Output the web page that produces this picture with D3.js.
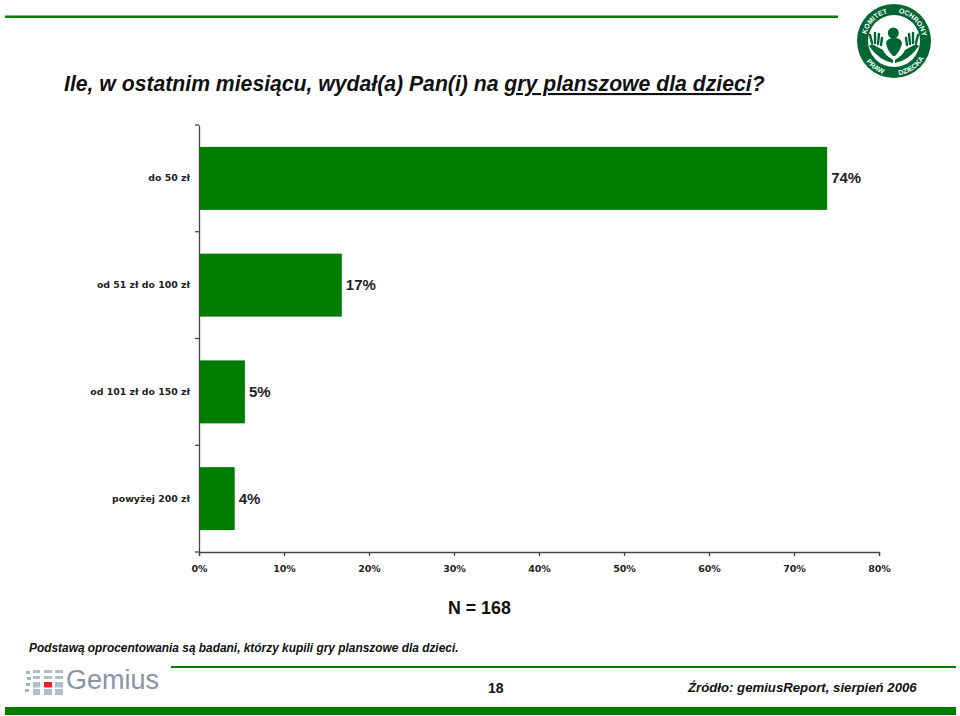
<!DOCTYPE html>
<html><head><meta charset="utf-8">
<script src="https://cdn.jsdelivr.net/npm/d3@7/dist/d3.min.js"></script>
<style>html,body{margin:0;padding:0;background:#fff}svg{display:block}</style>
</head><body><svg id="c" width="960" height="716"></svg>
<script>
const categories = ["do 50 zł","od 51 zł do 100 zł","od 101 zł do 150 zł","powyżej 200 zł"];
const values = [73.9,16.8,5.4,4.2];
const valueLabels = ["74%","17%","5%","4%"];
const ticks = [0,10,20,30,40,50,60,70,80];
const GREEN="#007d00", DK="#006633";
const svg=d3.select("#c");
const ff="'Liberation Sans',Arial,sans-serif";
const x=d3.scaleLinear().domain([0,80]).range([199,879]);
const y=d3.scaleBand().domain(categories).range([125,552]).paddingInner(0.41).paddingOuter(0.205);

// frame lines
const rule=(x1,x2,yy,w)=>svg.append("rect").attr("x",x1).attr("y",yy).attr("width",x2-x1).attr("height",w).attr("fill",GREEN);
rule(5,838,15.5,2.5); rule(171,956,666,2); rule(5,956,707,8);

// title
const t=svg.append("text").attr("x",64).attr("y",91).attr("font-family",ff).attr("font-size",21.2).attr("font-weight","bold").attr("font-style","italic").attr("fill","#111");
t.append("tspan").text("Ile, w ostatnim miesiącu, wydał(a) Pan(i) na ");
t.append("tspan").attr("text-decoration","underline").text("gry planszowe dla dzieci");
t.append("tspan").text("?");

// bars
svg.selectAll("rect.bar").data(categories).join("rect").attr("class","bar")
 .attr("x",x(0)).attr("y",d=>y(d)).attr("height",y.bandwidth())
 .attr("width",(d,i)=>x(values[i])-x(0)).attr("fill",GREEN);
svg.selectAll("text.val").data(categories).join("text").attr("class","val")
 .attr("x",(d,i)=>x(values[i])+4).attr("y",d=>y(d)+y.bandwidth()/2+5)
 .attr("font-family",ff).attr("font-size",15).attr("font-weight","bold").attr("fill","#222")
 .text((d,i)=>valueLabels[i]);

// axes
const lf="'DejaVu Sans',sans-serif";
const ax=svg.append("g").attr("transform","translate(0,552)")
 .call(d3.axisBottom(x).tickValues(ticks).tickSize(4).tickPadding(9).tickFormat(d=>d+"%"));
ax.selectAll("text").attr("font-family",lf).attr("font-size",9.5).attr("font-weight","bold").attr("fill","#222");
const ay=svg.append("g").attr("transform","translate(199,0)")
 .call(d3.axisLeft(y).tickSize(0).tickPadding(9));
ay.selectAll("text").attr("font-family",lf).attr("font-size",9.4).attr("font-weight","bold").attr("fill","#222");
[ax,ay].forEach(g=>g.selectAll("path,line").attr("stroke","#444").attr("stroke-width",1.3));
const step=y.step();
d3.range(5).forEach(i=>svg.append("line").attr("x1",195).attr("x2",199)
 .attr("y1",125+i*step).attr("y2",125+i*step).attr("stroke","#444").attr("stroke-width",1.3));

// notes
const note=(s,xx,yy,size,o={})=>svg.append("text").attr("x",xx).attr("y",yy).attr("font-family",ff).attr("font-size",size)
 .attr("font-weight",o.w||"bold").attr("font-style",o.i?"italic":"normal").attr("fill","#111").attr("text-anchor",o.a||"start").text(s);
note("N = 168",448,614,17.8);
note("Podstawą oprocentowania są badani, którzy kupili gry planszowe dla dzieci.",29,652,11.9,{i:1});
note("18",488,693,14);
note("Źródło: gemiusReport, sierpień 2006",688,692,13.2,{i:1});

// Gemius logo
const gm=svg.append("g");
const gx=[[33,7],[44,8],[55,8]], gy=[[670,3],[676,3],[682,5.5],[689,6]];
[[26,671],[27,677],[26,683],[25,689]].forEach(([a,b])=>gm.append("rect").attr("x",a).attr("y",b).attr("width",4).attr("height",3).attr("fill","#aab3c0"));
gx.forEach(([a,w],ci)=>gy.forEach(([b,h],ri)=>gm.append("rect").attr("x",a).attr("y",b).attr("width",w).attr("height",h)
  .attr("fill",(ci===1&&ri===2)?"#e8202a":"#b4bcc8")));
gm.append("text").attr("x",66).attr("y",689).attr("font-family",ff).attr("font-size",27).attr("fill","#8a93a3").text("Gemius");

// Committee logo
const L=svg.append("g").attr("transform","translate(894,41)");
L.append("circle").attr("r",37).attr("fill",DK);
L.append("circle").attr("r",26).attr("fill","#fff");
const defs=svg.append("defs");
defs.append("path").attr("id","arcT").attr("d","M -28.5 0 A 28.5 28.5 0 0 1 28.5 0");
defs.append("path").attr("id","arcB").attr("d","M -34.5 0 A 34.5 34.5 0 0 0 34.5 0");
const arc=(id,s,off)=>L.append("text").attr("font-family",ff).attr("font-size",7).attr("font-weight","bold").attr("fill","#fff")
 .attr("text-anchor","middle").append("textPath").attr("href","#"+id).attr("startOffset",off).text(s);
arc("arcT","KOMITET","25%");arc("arcT","OCHRONY","75%");arc("arcB","PRAW","30%");arc("arcB","DZIECKA","69%");
L.append("circle").attr("cx",-0.7).attr("cy",-8).attr("r",5.5).attr("fill",DK);
L.append("path").attr("d","M-8 2 Q-7 -3 0 -3 Q7 -3 8 2 Q7 9 1 15 L-1 15 Q-7 9 -8 2Z").attr("fill",DK);
[-1,1].forEach(s=>{
 L.append("path").attr("d",`M${s*1} 22 Q${s*14} 20 ${s*25} 5 L${s*22} 3 L${s*11} 9 Q${s*10} 13 ${s*1} 19Z`).attr("fill",DK);
 L.append("path").attr("d",`M${s*13} 4 L${s*12} -3 M${s*16} 3 L${s*15} -7 M${s*19} 2 L${s*19} -8 M${s*22} 2 L${s*24} -6`)
  .attr("stroke",DK).attr("stroke-width",2.4).attr("stroke-linecap","round").attr("fill","none");
});
</script></body></html>
